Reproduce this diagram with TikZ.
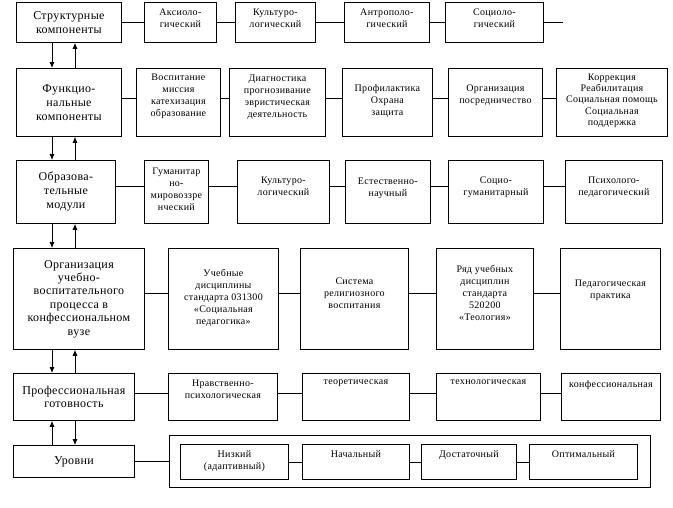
\documentclass[tikz,border=0pt]{standalone}
\usepackage{fontspec}
\setmainfont{Liberation Serif}[LetterSpace=3]
\usetikzlibrary{positioning,arrows.meta}
\tikzset{
  blok/.style  = {rectangle, draw, line width=0.8pt, anchor=north west, inner sep=0},
  glav/.style  = {blok, align=center, font=\fontsize{12}{14}\selectfont},
  txt/.style   = {align=center, inner sep=0, font=\fontsize{10}{12}\selectfont},
  svyaz/.style = {line width=0.8pt},
  strl/.style  = {line width=0.8pt, -{Latex[length=6pt,width=5pt]}}
}

\begin{document}
\begin{tikzpicture}[x=1pt, y=-1pt]
  \useasboundingbox (0,0) rectangle (673,507);
  \coordinate (lev) at (52,0); \coordinate (prav) at (75,0);

  % структурные компоненты
  \node[glav, minimum width=105pt, minimum height=40pt] (strukt) at (16,2) {Структурные\\компоненты};
  \node[blok, minimum width=72pt, minimum height=40pt] (aks) at (144,2) {}; \node[txt, below=6.5pt of aks.north] (aks-t) {Аксиоло-\\гический};
  \node[blok, minimum width=80pt, minimum height=40pt] (kult1) at (235,2) {}; \node[txt, below=6.5pt of kult1.north] (kult1-t) {Культуро-\\логический};
  \node[blok, minimum width=85pt, minimum height=40pt] (antr) at (344,2) {}; \node[txt, below=6.5pt of antr.north] (antr-t) {Антрополо-\\гический};
  \node[blok, minimum width=98pt, minimum height=40pt] (soc1) at (445,2) {}; \node[txt, below=6.5pt of soc1.north] (soc1-t) {Социоло-\\гический};
  \coordinate[right=19pt of soc1.east] (konec);
  \draw[svyaz] (strukt.east)--(aks.west) (aks.east)--(kult1.west) (kult1.east)--(antr.west) (antr.east)--(soc1.west) (soc1.east)--(konec);

  % функциональные компоненты
  \node[glav, minimum width=105pt, minimum height=68pt] (funk) at (16,68) {Функцио-\\нальные\\компоненты};
  \node[blok, minimum width=84pt, minimum height=68pt] (vosp) at (136,68) {}; \node[txt, below=5.5pt of vosp.north] (vosp-t) {Воспитание\\миссия\\катехизация\\образование};
  \node[blok, minimum width=96pt, minimum height=68pt] (diag) at (229,68) {}; \node[txt, below=6.5pt of diag.north] (diag-t) {Диагностика\\прогнозивание\\эвристическая\\деятельность};
  \node[blok, minimum width=90pt, minimum height=68pt] (prof) at (342,68) {}; \node[txt, below=16.5pt of prof.north] (prof-t) {Профилактика\\Охрана\\защита};
  \node[blok, minimum width=94pt, minimum height=68pt] (org) at (448,68) {}; \node[txt, below=16.5pt of org.north] (org-t) {Организация\\посредничество};
  \node[blok, minimum width=111pt, minimum height=68pt] (korr) at (556,68) {}; \node[txt, below=5.5pt of korr.north, font=\fontsize{10}{11.3}\selectfont] (korr-t) {Коррекция\\Реабилитация\\Социальная помощь\\Социальная\\поддержка};
  \draw[svyaz] ([yshift=4pt]funk.east)--([yshift=4pt]vosp.west) ([yshift=4pt]vosp.east)--([yshift=4pt]diag.west) ([yshift=4pt]diag.east)--([yshift=4pt]prof.west)
    ([yshift=4pt]prof.east)--([yshift=4pt]org.west) ([yshift=4pt]org.east)--([yshift=4pt]korr.west);

  % образовательные модули
  \node[glav, minimum width=99pt, minimum height=63pt] (obr) at (16,160) {Образова-\\тельные\\модули};
  \node[blok, minimum width=64pt, minimum height=63pt] (gum) at (144,160) {}; \node[txt, below=8pt of gum.north] (gum-t) {Гуманитар\\но-\\мировоззре\\нческий};
  \node[blok, minimum width=92pt, minimum height=63pt] (kult2) at (237,160) {}; \node[txt, below=16.5pt of kult2.north] (kult2-t) {Культуро-\\логический};
  \node[blok, minimum width=85pt, minimum height=63pt] (est) at (345,160) {}; \node[txt, below=18pt of est.north] (est-t) {Естественно-\\научный};
  \node[blok, minimum width=95pt, minimum height=63pt] (soc2) at (448,160) {}; \node[txt, below=17pt of soc2.north] (soc2-t) {Социо-\\гуманитарный};
  \node[blok, minimum width=97pt, minimum height=63pt] (psih) at (565,160) {}; \node[txt, below=17pt of psih.north] (psih-t) {Психолого-\\педагогический};
  \draw[svyaz] ([yshift=5.5pt]obr.east)--([yshift=5.5pt]gum.west) ([yshift=5.5pt]gum.east)--([yshift=5.5pt]kult2.west) ([yshift=5.5pt]kult2.east)--([yshift=5.5pt]est.west)
    ([yshift=5.5pt]est.east)--([yshift=5.5pt]soc2.west) ([yshift=5.5pt]soc2.east)--([yshift=5.5pt]psih.west);

  % организация процесса
  \node[glav, minimum width=131pt, minimum height=101pt, font=\fontsize{12}{13.4}\selectfont] (proc) at (13,248) {Организация\\учебно-\\воспитательного\\процесса в\\конфессиональном\\вузе};
  \node[blok, minimum width=110pt, minimum height=101pt] (ucheb) at (168,248) {}; \node[txt, below=21.5pt of ucheb.north] (ucheb-t) {Учебные\\дисциплины\\стандарта 031300\\«Социальная\\педагогика»};
  \node[blok, minimum width=108pt, minimum height=101pt] (sist) at (300,248) {}; \node[txt, below=30pt of sist.north] (sist-t) {Система\\религиозного\\воспитания};
  \node[blok, minimum width=97pt, minimum height=101pt] (ryad) at (436,248) {}; \node[txt, below=17.5pt of ryad.north] (ryad-t) {Ряд учебных\\дисциплин\\стандарта\\520200\\«Теология»};
  \node[blok, minimum width=100pt, minimum height=101pt] (ped) at (560,248) {}; \node[txt, below=32pt of ped.north] (ped-t) {Педагогическая\\практика};
  \draw[svyaz] ([yshift=5.5pt]proc.east)--([yshift=5.5pt]ucheb.west) ([yshift=5.5pt]ucheb.east)--([yshift=5.5pt]sist.west) ([yshift=5.5pt]sist.east)--([yshift=5.5pt]ryad.west)
    ([yshift=5.5pt]ryad.east)--([yshift=5.5pt]ped.west);

  % профессиональная готовность
  \node[glav, minimum width=121pt, minimum height=47pt, font=\fontsize{12}{13.4}\selectfont] (gotov) at (13,373) {Профессиональная\\готовность};
  \node[blok, minimum width=109pt, minimum height=47pt] (nrav) at (168,373) {}; \node[txt, below=7pt of nrav.north] (nrav-t) {Нравственно-\\психологическая};
  \node[blok, minimum width=107pt, minimum height=47pt] (teor) at (302,373) {}; \node[txt, below=7pt of teor.north] (teor-t) {теоретическая};
  \node[blok, minimum width=104pt, minimum height=47pt] (tehn) at (436,373) {}; \node[txt, below=7pt of tehn.north] (tehn-t) {технологическая};
  \node[blok, minimum width=99pt, minimum height=47pt] (konf) at (561,373) {}; \node[txt, below=7pt of konf.north] (konf-t) {конфессиональная};
  \draw[svyaz] ([yshift=3.5pt]gotov.east)--([yshift=3.5pt]nrav.west) ([yshift=3.5pt]nrav.east)--([yshift=3.5pt]teor.west) ([yshift=3.5pt]teor.east)--([yshift=3.5pt]tehn.west)
    ([yshift=3.5pt]tehn.east)--([yshift=3.5pt]konf.west);

  % уровни
  \node[glav, minimum width=121pt, minimum height=32pt] (urov) at (13,445) {Уровни};
  \node[blok, minimum width=481pt, minimum height=52pt] (ramka) at (169,435) {};
  \node[blok, minimum width=108pt, minimum height=35pt] (niz) at (180,444) {}; \node[txt, below=6.5pt of niz.north] (niz-t) {Низкий\\(адаптивный)};
  \node[blok, minimum width=107pt, minimum height=35pt] (nach) at (302,444) {}; \node[txt, below=6.5pt of nach.north] (nach-t) {Начальный};
  \node[blok, minimum width=95pt, minimum height=35pt] (dost) at (421,444) {}; \node[txt, below=6.5pt of dost.north] (dost-t) {Достаточный};
  \node[blok, minimum width=108pt, minimum height=35pt] (opt) at (529,444) {}; \node[txt, below=6.5pt of opt.north] (opt-t) {Оптимальный};
  \draw[svyaz] (urov.east)--(ramka.west) (niz.east)--(nach.west) (nach.east)--(dost.west) (dost.east)--(opt.west);

  % стрелки между уровнями
  \draw[strl] (strukt.south -| lev)--(funk.north -| lev);  \draw[strl] (funk.north -| prav)--(strukt.south -| prav);
  \draw[strl] (funk.south -| lev)--(obr.north -| lev);     \draw[strl] (obr.north -| prav)--(funk.south -| prav);
  \draw[strl] (obr.south -| lev)--(proc.north -| lev);     \draw[strl] (proc.north -| prav)--(obr.south -| prav);
  \draw[strl] (proc.south -| lev)--(gotov.north -| lev);   \draw[strl] (gotov.north -| prav)--(proc.south -| prav);
  \draw[strl] (urov.north -| lev)--(gotov.south -| lev);   \draw[strl] (gotov.south -| prav)--(urov.north -| prav);
\end{tikzpicture}
\end{document}
